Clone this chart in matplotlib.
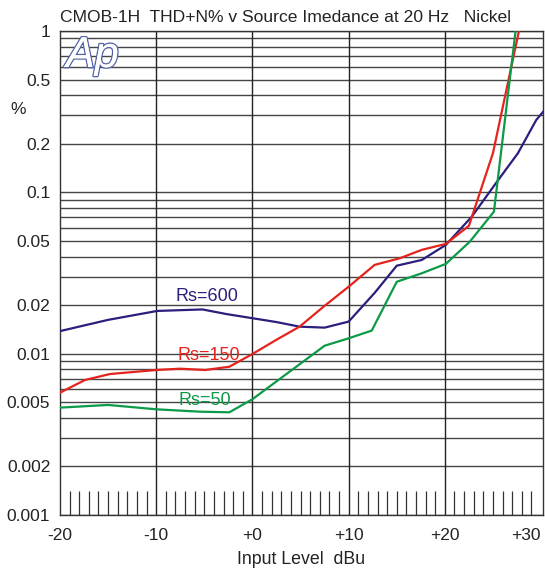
import numpy as np
import matplotlib.pyplot as plt
import matplotlib.patheffects as pe
from matplotlib.ticker import FixedLocator, MultipleLocator, NullFormatter

plt.rcParams['font.family'] = ['Liberation Sans', 'DejaVu Sans']

# data
x_600 = [-20, -15.0, -9.9, -5.2, -2.7, 2.5, 4.9, 7.5, 10.0, 12.7, 15.0, 17.6, 20.1, 22.8, 25.4, 27.6, 29.5, 30.2]
thd_600 = [0.0138, 0.0162, 0.0184, 0.0188, 0.0176, 0.0157, 0.0147, 0.0145, 0.0158, 0.0238, 0.0351, 0.0381,
           0.0472, 0.0707, 0.116, 0.175, 0.281, 0.315]

x_150 = [-20, -17.4, -14.8, -10.0, -7.5, -4.9, -2.4, 0.0, 2.5, 4.9, 7.5, 10.0, 12.7, 15.3, 17.6, 20.1, 22.5, 25.0, 27.7]
thd_150 = [0.00573, 0.00687, 0.00748, 0.00792, 0.00807, 0.00792, 0.0083, 0.00995, 0.0122, 0.0147, 0.0198,
           0.026, 0.0355, 0.039, 0.044, 0.0479, 0.062, 0.175, 1.0]

x_50 = [-20, -15.0, -10.0, -5.5, -2.4, 0.0, 7.5, 10.0, 12.4, 15.0, 17.6, 20.1, 22.6, 25.1, 27.35]
thd_50 = [0.00463, 0.00481, 0.00452, 0.00437, 0.00433, 0.00522, 0.0112, 0.01245, 0.0139, 0.0279, 0.0315,
          0.036, 0.0495, 0.0759, 1.0]

x_ticks = [-20, -10, 0, 10, 20, 30]
x_labels = ['-20', '-10', '+0', '+10', '+20', '+30']
y_ticks = [0.001, 0.002, 0.005, 0.01, 0.02, 0.05, 0.1, 0.2, 0.5, 1]
y_labels = ['0.001', '0.002', '0.005', '0.01', '0.02', '0.05', '0.1', '0.2', '0.5', '1']

W, H = 545, 575
fig = plt.figure(figsize=(W / 100, H / 100), dpi=100)
ax = fig.add_axes([60 / W, 1 - 515 / H, (543 - 60) / W, (515 - 31) / H])

ax.set_yscale('log')
ax.set_xlim(-20, 30.2)
ax.set_ylim(0.001, 1)

# log grid, every 1..9 of each decade
grid_y = [m * 10.0 ** e for e in (-3, -2, -1) for m in range(1, 10)] + [1.0]
for gy in grid_y:
    ax.axhline(gy, color='#454545', lw=1.0, zorder=1)
for gx in x_ticks[1:5]:
    ax.axvline(gx, color='#222222', lw=1.0, zorder=1)

ax.plot(x_600, thd_600, color='#2a1f7c', lw=1.6, zorder=3)
ax.plot(x_150, thd_150, color='#e5231d', lw=1.6, zorder=3)
ax.plot(x_50, thd_50, color='#0c9a48', lw=1.6, zorder=3)

ax.text(-4.7, 0.0225, 'Rs=600', color='#2a1f7c', fontsize=13, ha='center', va='center', zorder=4)
ax.text(-4.5, 0.0098, 'Rs=150', color='#e5231d', fontsize=13, ha='center', va='center', zorder=4)
ax.text(-5.0, 0.0051, 'Rs=50', color='#0c9a48', fontsize=13, ha='center', va='center', zorder=4)

ax.xaxis.set_major_locator(FixedLocator(x_ticks))
ax.set_xticklabels(x_labels, fontsize=12.5)
ax.xaxis.set_minor_locator(MultipleLocator(1))
ax.xaxis.set_minor_formatter(NullFormatter())
ax.tick_params(axis='x', which='major', length=0, pad=9, colors='#222222')
ax.tick_params(axis='x', which='minor', direction='in', length=17, width=0.9, color='#333333')
ax.get_xticklabels()[-1].set_horizontalalignment('right')

ax.yaxis.set_major_locator(FixedLocator(y_ticks))
ax.set_yticklabels(y_labels, fontsize=12.5)
ax.yaxis.set_minor_formatter(NullFormatter())
ax.tick_params(axis='y', which='both', length=0, pad=7, colors='#222222')

for s in ax.spines.values():
    s.set_color('#333333')
    s.set_linewidth(1.0)

ax.set_xlabel('Input Level  dBu', fontsize=12.8, color='#222222', labelpad=6)
fig.text(286 / W, 1 - 17 / H, 'CMOB-1H  THD+N% v Source Imedance at 20 Hz   Nickel',
         fontsize=12.6, ha='center', va='center', color='#222222')
fig.text(18 / W, 1 - 109 / H, '%', fontsize=12.5, ha='center', va='center', color='#222222')

# Ap logo, outlined
logo = fig.text(66 / W, 1 - 56 / H, 'Ap', fontsize=31, style='italic',
                color='white', ha='left', va='center', zorder=5)
logo.set_path_effects([pe.withStroke(linewidth=2.0, foreground='#5563a8'), pe.Normal()])

fig.savefig('out.png', dpi=100)
